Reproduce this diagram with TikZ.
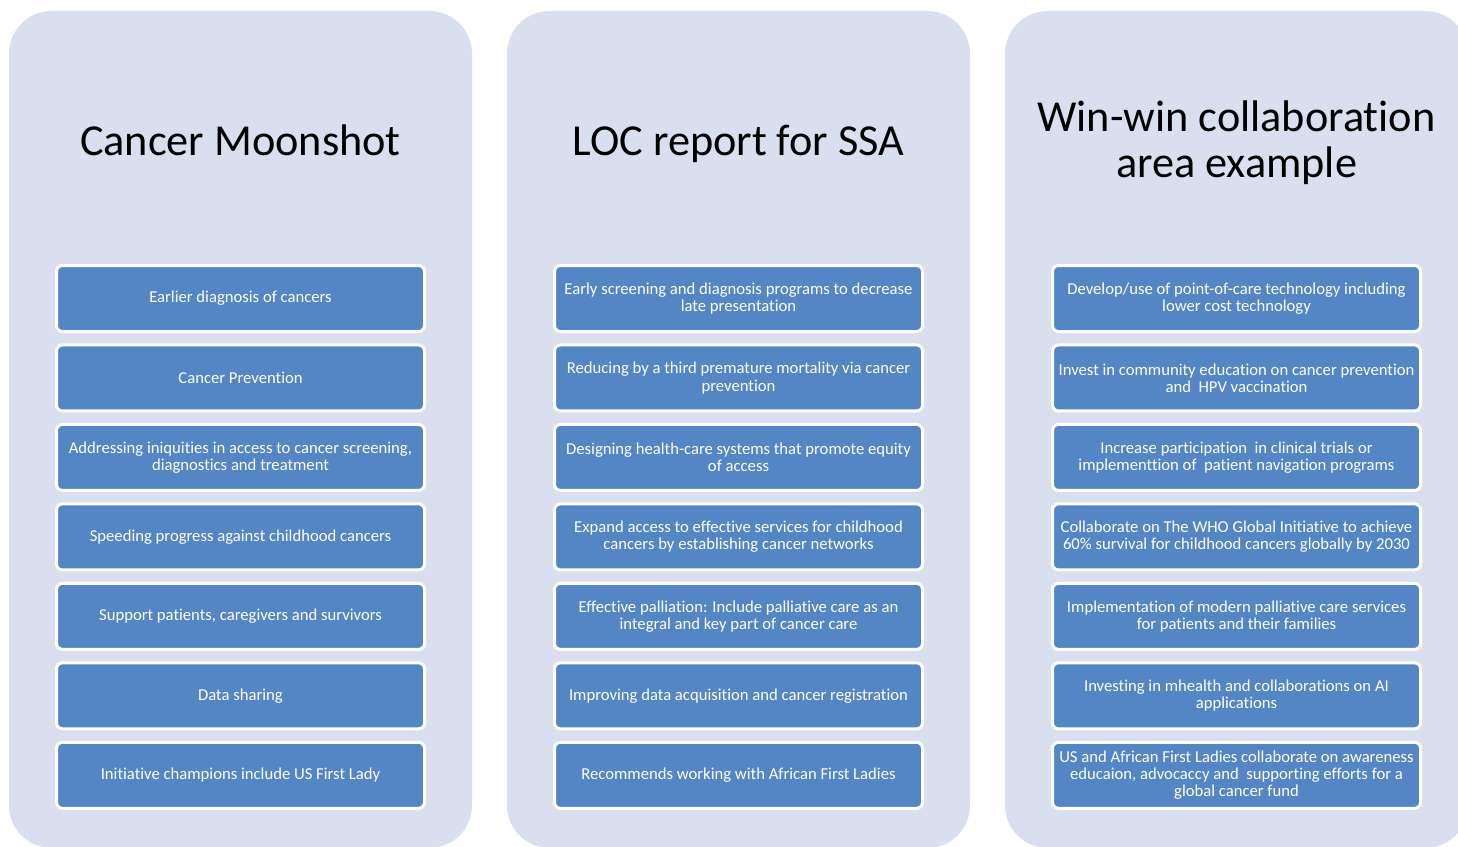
\documentclass[tikz,border=0pt]{standalone}
\usepackage{fontspec}
\setmainfont{Carlito}[Ligatures=NoCommon]
\usetikzlibrary{positioning}
\definecolor{panelbg}{RGB}{217,223,238}
\definecolor{itemblue}{RGB}{84,134,197}

\begin{document}
\begin{tikzpicture}[x=0.75pt, y=-0.75pt, node distance=10.1pt,
    panel/.style={fill=panelbg, rounded corners=32pt},
    title node/.style={font=\fontsize{33.2}{34.5}\selectfont, align=center},
    item node/.style={rectangle, rounded corners=4.5pt, fill=itemblue, draw=white,
      line width=2.25pt, outer sep=0pt, minimum width=276pt, minimum height=49.5pt,
      align=center, text=white, font=\fontsize{12.5}{12.9}\selectfont}]

  \useasboundingbox (0,0) rectangle (1458,846);

  % the three columns
  \fill[panel] (9,11) rectangle (472,848);
  \fill[panel] (507,11) rectangle (970,848);
  \fill[panel] (1005,11) rectangle (1468,848);

  \node[title node, anchor=base] (cm) at (240.5,155) {Cancer Moonshot};
  \node[title node, anchor=base] (loc) at (738.5,155) {LOC report for SSA};
  \node[title node, anchor=base] (ww) at (1236.5,177) {Win-win collaboration\\area example};

  % Cancer Moonshot
  \node[item node] (m1) at (240.5,298.5) {Earlier diagnosis of cancers};
  \node[item node] (m2) [below =of m1] {Cancer Prevention};
  \node[item node] (m3) [below =of m2] {Addressing iniquities in access to cancer screening,\\diagnostics and treatment};
  \node[item node] (m4) [below =of m3] {Speeding progress against childhood cancers};
  \node[item node] (m5) [below =of m4] {Support patients, caregivers and survivors};
  \node[item node] (m6) [below =of m5] {Data sharing};
  \node[item node] (m7) [below =of m6] {Initiative champions include US First Lady};

  % LOC report
  \node[item node] (l1) at (738.5,298.5) {Early screening and diagnosis programs to decrease\\late presentation};
  \node[item node] (l2) [below =of l1] {Reducing by a third premature mortality via cancer\\prevention};
  \node[item node] (l3) [below =of l2] {Designing health-care systems that promote equity\\of access};
  \node[item node] (l4) [below =of l3] {Expand access to effective services for childhood\\cancers by establishing cancer networks};
  \node[item node] (l5) [below =of l4] {Effective palliation: Include palliative care as an\\integral and key part of cancer care};
  \node[item node] (l6) [below =of l5] {Improving data acquisition and cancer registration};
  \node[item node] (l7) [below =of l6] {Recommends working with African First Ladies};

  % win-win
  \node[item node] (w1) at (1236.5,298.5) {Develop/use of point-of-care technology including\\lower cost technology};
  \node[item node] (w2) [below =of w1] {Invest in community education on cancer prevention\\and\ \ HPV vaccination};
  \node[item node] (w3) [below =of w2] {Increase participation\ \ in clinical trials or\\implementtion of\ \ patient navigation programs};
  \node[item node] (w4) [below =of w3] {Collaborate on The WHO Global Initiative to achieve\\60\% survival for childhood cancers globally by 2030};
  \node[item node] (w5) [below =of w4] {Implementation of modern palliative care services\\for patients and their families};
  \node[item node] (w6) [below =of w5] {Investing in mhealth and collaborations on AI\\applications};
  \node[item node] (w7) [below =of w6] {US and African First Ladies collaborate on awareness\\educaion, advocaccy and\ \ supporting efforts for a\\global cancer fund};
\end{tikzpicture}
\end{document}
